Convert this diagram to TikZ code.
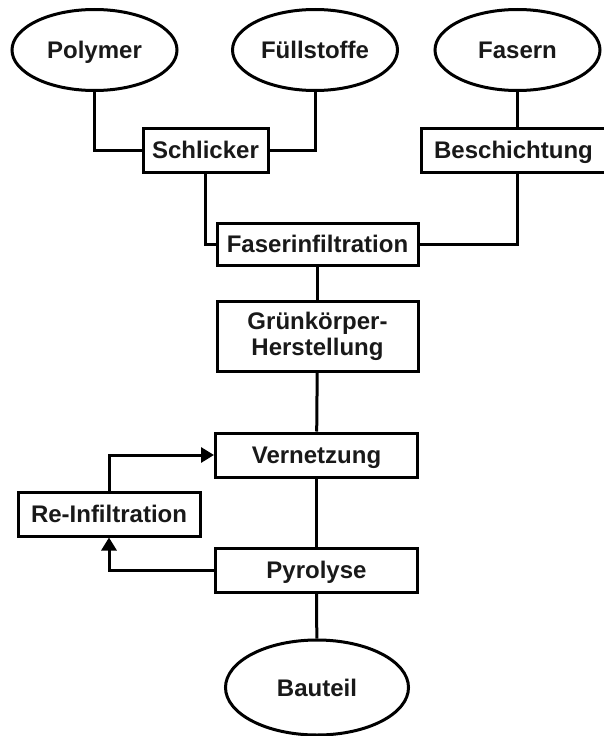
\documentclass[tikz,border=0pt]{standalone}
\usepackage{fontspec}
\setmainfont{Liberation Sans}
\usetikzlibrary{shapes.geometric,arrows.meta}
\begin{document}
\begin{tikzpicture}[x=1pt,y=-1pt,
  every node/.style={font=\bfseries\fontsize{24}{26}\selectfont, text=black!90, inner sep=0pt, align=center},
  capline/.style={text height=17pt, text depth=0pt},
  oval/.style={draw, line width=3pt, ellipse, minimum width=165pt, minimum height=81pt, capline},
  stepbox/.style={draw, line width=3pt, rectangle, minimum height=44pt},
  link/.style={line width=3pt},
  flow/.style={line width=3pt, -{Triangle[length=13pt,width=15pt]}}
]
\useasboundingbox (0,0) rectangle (603,736);
\fill[white] (0,0) rectangle (603,736);

% raw materials
\node[oval] (poly) at (94.5,50) {Polymer};
\node[oval] (fuel) at (315,50) {Füllstoffe};
\node[oval] (fas)  at (517.5,50) {Fasern};

% preparation steps
\node[stepbox, capline, minimum width=125pt] (schl)  at (205.5,150) {Schlicker};
\node[stepbox, capline, minimum width=185pt] (besch) at (513.5,150) {Beschichtung};
\node[stepbox, capline, minimum width=201pt, minimum height=42pt] (fi) at (317.5,244) {Faserinfiltration};
\node[stepbox, minimum width=201pt, minimum height=70pt] (gk) at (317.5,336) {Grünkörper-\\Herstellung};
\node[stepbox, capline, minimum width=202pt] (vn) at (316.5,455) {Vernetzung};
\node[stepbox, capline, minimum width=182pt] (reinf) at (109,514) {Re-Infiltration};
\node[stepbox, capline, minimum width=202pt] (pyro) at (316.5,570) {Pyrolyse};

% result
\node[oval, minimum width=183pt, minimum height=95pt] (bau) at (317,687.5) {Bauteil};

% connectors
\draw[link] (poly) |- (schl);
\draw[link] (fuel) |- (schl);
\draw[link] (fas.south) -- (fas.south |- besch.north);
\draw[link] (schl) |- (fi);
\draw[link] (fas.south |- besch.south) |- (fi.east);
\draw[link] (fi) -- (gk);
\draw[link] (gk) -- (vn);
\draw[link] (vn) -- (pyro);
\draw[link] (pyro) -- (bau);

% re-infiltration loop
\draw[flow] (pyro.west) -| (reinf.south);
\draw[flow] (reinf.north) |- (vn.west);
\end{tikzpicture}
\end{document}
